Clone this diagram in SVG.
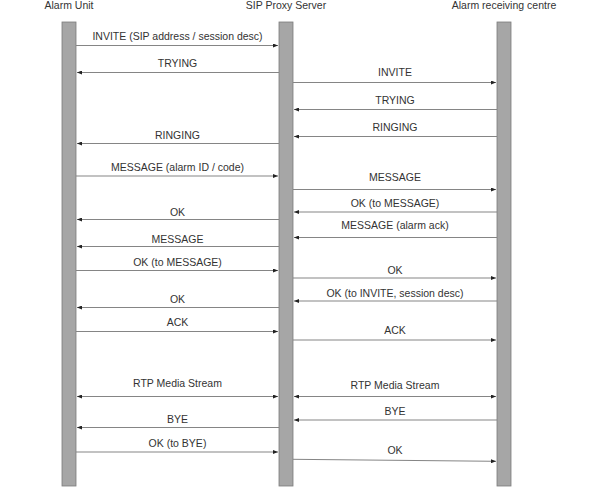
<svg xmlns="http://www.w3.org/2000/svg" width="597" height="496" viewBox="0 0 597 496">
<style>
text{font-family:"Liberation Sans",Arial,sans-serif;font-size:10.5px;fill:#333;}
.lbl{text-anchor:middle;}
.bar{fill:#a6a6a6;stroke:#7c7c7c;stroke-width:0.8;}
.msg{stroke:#858585;stroke-width:1;fill:none;marker-end:url(#ah);}
.bi{marker-start:url(#ah);}
</style>
<defs>
<marker id="ah" markerUnits="userSpaceOnUse" markerWidth="6" markerHeight="4" refX="5" refY="2" orient="auto-start-reverse">
<path d="M0,0 L5,2 L0,4 z" fill="#222"/>
</marker>
</defs>
<rect width="597" height="496" fill="#fff"/>
<g id="alarm-unit">
<rect class="bar" x="62" y="22" width="14" height="464"/>
<text class="lbl" x="69" y="8.5">Alarm Unit</text>
</g>
<g id="sip-proxy">
<rect class="bar" x="279" y="22" width="14" height="464"/>
<text class="lbl" x="286" y="8.5">SIP Proxy Server</text>
</g>
<g id="alarm-centre">
<rect class="bar" x="497" y="22" width="14" height="464"/>
<text class="lbl" x="504" y="8.5">Alarm receiving centre</text>
</g>
<g id="connectors">
<line class="msg" x1="76" y1="45.5" x2="278" y2="45.5"/>
<line class="msg" x1="279" y1="72.5" x2="77" y2="72.5"/>
<line class="msg" x1="279" y1="143.5" x2="77" y2="143.5"/>
<line class="msg" x1="76" y1="176" x2="278" y2="176"/>
<line class="msg" x1="279" y1="219.5" x2="77" y2="219.5"/>
<line class="msg" x1="279" y1="246.5" x2="77" y2="246.5"/>
<line class="msg" x1="76" y1="270.5" x2="278" y2="270.5"/>
<line class="msg" x1="279" y1="307.5" x2="77" y2="307.5"/>
<line class="msg" x1="76" y1="331.5" x2="278" y2="331.5"/>
<line class="msg bi" x1="77" y1="396.5" x2="278" y2="396.5"/>
<line class="msg" x1="279" y1="427.5" x2="77" y2="427.5"/>
<line class="msg" x1="76" y1="452" x2="278" y2="452"/>

<line class="msg" x1="293" y1="82.5" x2="496" y2="82.5"/>
<line class="msg" x1="497" y1="109.5" x2="294" y2="109.5"/>
<line class="msg" x1="497" y1="136.5" x2="294" y2="136.5"/>
<line class="msg" x1="293" y1="189.5" x2="496" y2="189.5"/>
<line class="msg" x1="497" y1="212" x2="294" y2="212"/>
<line class="msg" x1="497" y1="237.5" x2="294" y2="237.5"/>
<line class="msg" x1="293" y1="278" x2="496" y2="278"/>
<line class="msg" x1="497" y1="301" x2="294" y2="301"/>
<line class="msg" x1="293" y1="340" x2="496" y2="340"/>
<line class="msg bi" x1="294" y1="396.5" x2="496" y2="396.5"/>
<line class="msg" x1="497" y1="420" x2="294" y2="420"/>
<line class="msg" x1="293" y1="459.3" x2="496" y2="461.3"/>

<text class="lbl" x="177.5" y="39.5">INVITE (SIP address / session desc)</text>
<text class="lbl" x="177.5" y="66.7">TRYING</text>
<text class="lbl" x="177.5" y="139.3">RINGING</text>
<text class="lbl" x="177.5" y="171">MESSAGE (alarm ID / code)</text>
<text class="lbl" x="177.5" y="216">OK</text>
<text class="lbl" x="177.5" y="242.7">MESSAGE</text>
<text class="lbl" x="177.5" y="266">OK (to MESSAGE)</text>
<text class="lbl" x="177.5" y="302.7">OK</text>
<text class="lbl" x="177.5" y="325.7">ACK</text>
<text class="lbl" x="177.5" y="387.3">RTP Media Stream</text>
<text class="lbl" x="177.5" y="423">BYE</text>
<text class="lbl" x="177.5" y="447.3">OK (to BYE)</text>

<text class="lbl" x="395" y="76">INVITE</text>
<text class="lbl" x="395" y="104">TRYING</text>
<text class="lbl" x="395" y="131.3">RINGING</text>
<text class="lbl" x="395" y="181.3">MESSAGE</text>
<text class="lbl" x="395" y="207.3">OK (to MESSAGE)</text>
<text class="lbl" x="395" y="229.3">MESSAGE (alarm ack)</text>
<text class="lbl" x="395" y="274.3">OK</text>
<text class="lbl" x="395" y="296.7">OK (to INVITE, session desc)</text>
<text class="lbl" x="395" y="334.3">ACK</text>
<text class="lbl" x="395" y="389">RTP Media Stream</text>
<text class="lbl" x="395" y="415.3">BYE</text>
<text class="lbl" x="395" y="454.3">OK</text>
</g>
</svg>
